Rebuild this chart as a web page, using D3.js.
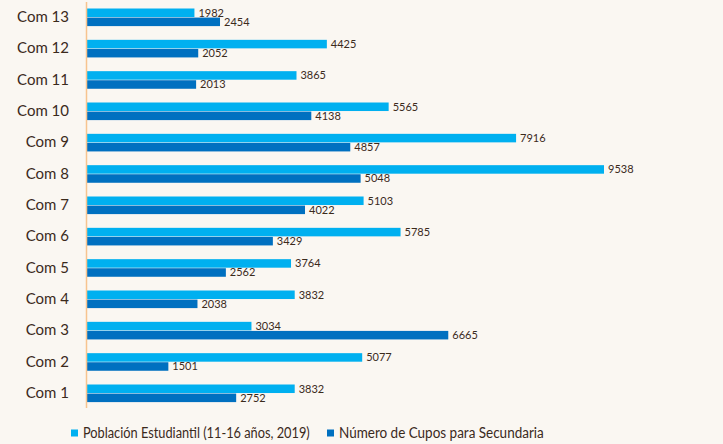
<!DOCTYPE html>
<html>
<head>
<meta charset="utf-8">
<script src="https://cdn.jsdelivr.net/npm/d3@7"></script>
<style>
  html, body { margin: 0; padding: 0; background: #faf7f2; }
  svg { display: block; }
  text { font-family: Lato, "Open Sans", sans-serif; fill: #3b2a1c; }
</style>
</head>
<body>
<svg id="chart" width="723" height="444"></svg>
<script>
// Comunas, listed top to bottom
const categories = ["Com 13", "Com 12", "Com 11", "Com 10", "Com 9", "Com 8", "Com 7",
                    "Com 6", "Com 5", "Com 4", "Com 3", "Com 2", "Com 1"];
const poblacion = [1982, 4425, 3865, 5565, 7916, 9538, 5103, 5785, 3764, 3832, 3034, 5077, 3832];
const cupos     = [2454, 2052, 2013, 4138, 4857, 5048, 4022, 3429, 2562, 2038, 6665, 1501, 2752];
const seriesNames = ["Población Estudiantil (11-16 años, 2019)", "Número de Cupos para Secundaria"];
const seriesColors = ["#00b0f0", "#0070c0"];

const svg = d3.select("#chart");

const x = d3.scaleLinear().domain([0, 9538]).range([87, 604]);
const y = d3.scalePoint().domain(categories).range([17.3, 393.3]);
const sub = d3.scaleBand().domain([0, 1]).range([-8.8, 8.8]).paddingInner(0.06);

const rows = categories.map((c, i) => ({ cat: c, vals: [poblacion[i], cupos[i]] }));

const g = svg.append("g");

const row = g.selectAll("g.row").data(rows).join("g")
  .attr("class", "row")
  .attr("transform", d => `translate(0,${y(d.cat)})`);

row.selectAll("rect").data(d => d.vals).join("rect")
  .attr("x", x(0))
  .attr("y", (v, j) => sub(j))
  .attr("width", v => x(v) - x(0))
  .attr("height", sub.bandwidth())
  .attr("fill", (v, j) => seriesColors[j]);

row.selectAll("text.val").data(d => d.vals).join("text")
  .attr("class", "val")
  .attr("x", v => x(v) + 4)
  .attr("y", (v, j) => sub(j) + sub.bandwidth() / 2 + 1)
  .attr("dominant-baseline", "middle")
  .attr("font-size", 11)
  .text(v => v);

// category labels
g.selectAll("text.cat").data(categories).join("text")
  .attr("class", "cat")
  .attr("x", 69)
  .attr("y", d => y(d) + 1)
  .attr("text-anchor", "end")
  .attr("dominant-baseline", "middle")
  .attr("font-size", 15)
  .text(d => d);

// vertical axis line
svg.append("line")
  .attr("x1", x(0) - 0.5).attr("x2", x(0) - 0.5)
  .attr("y1", 2).attr("y2", 408)
  .attr("stroke", "#f7c48f").attr("stroke-width", 1.5);

// legend: each entry is squeezed horizontally to a condensed width
const legend = svg.append("g").attr("transform", "translate(71,433)");
const lx = [0, 256];
const lw = [227, 205];
seriesNames.forEach((name, i) => {
  const lg = legend.append("g").attr("transform", `translate(${lx[i]},0)`);
  lg.append("rect").attr("x", 0).attr("y", -3.5).attr("width", 7).attr("height", 7)
    .attr("fill", seriesColors[i]);
  const t = lg.append("text").attr("x", 0).attr("y", 0.5)
    .attr("dominant-baseline", "middle").attr("font-size", 16)
    .text(name);
  const natural = t.node().getComputedTextLength();
  const s = Math.min(1, lw[i] / natural);
  t.attr("transform", `translate(12,0) scale(${s},1)`);
});
</script>
</body>
</html>
